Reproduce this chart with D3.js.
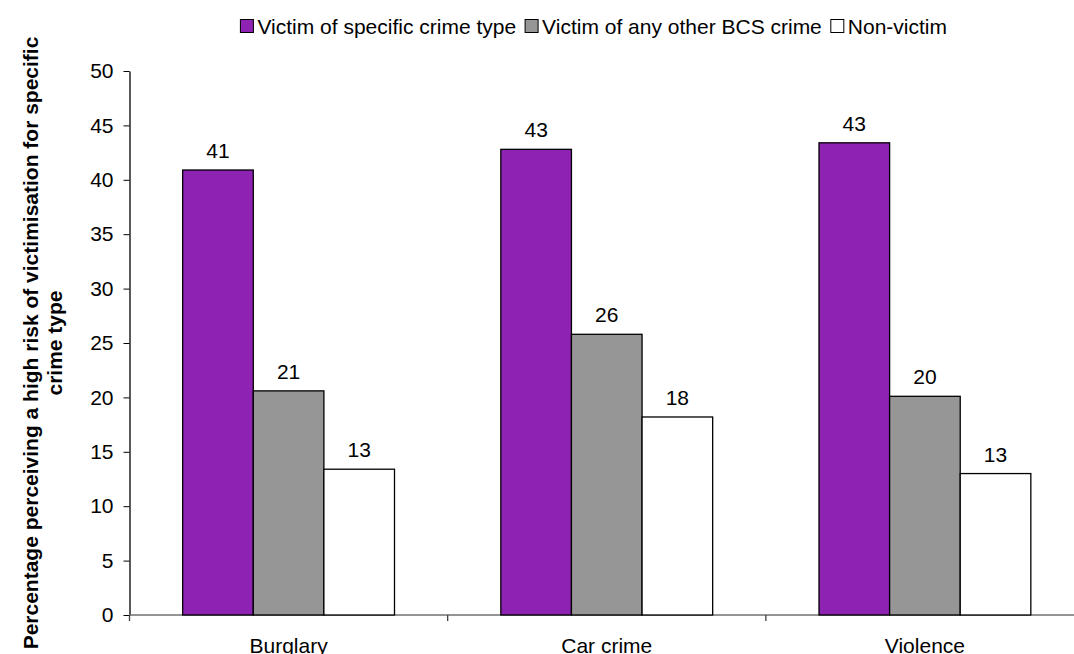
<!DOCTYPE html>
<html>
<head>
<meta charset="utf-8">
<script src="https://cdn.jsdelivr.net/npm/d3@7"></script>
<style>
  html, body { margin: 0; padding: 0; background: #fff; }
  svg { display: block; font-family: "Liberation Sans", Arial, sans-serif; }
</style>
</head>
<body>
<svg id="chart" width="1074" height="654"></svg>
<script>
// Crime types along the x axis
const categories = ["Burglary", "Car crime", "Violence"];
// Victimisation groups (one bar each per crime type)
const seriesNames = ["Victim of specific crime type", "Victim of any other BCS crime", "Non-victim"];
// Percentage perceiving a high risk, per group
const victimSpecific = [40.9, 42.8, 43.4];
const victimOther = [20.6, 25.8, 20.1];
const nonVictim = [13.4, 18.2, 13.0];
// Y axis ticks
const yTicks = [0, 5, 10, 15, 20, 25, 30, 35, 40, 45, 50];
const yLabel = ["Percentage perceiving a high risk of victimisation for specific", "crime type"];

const colors = ["#8e22b2", "#969696", "#ffffff"];
const seriesValues = [victimSpecific, victimOther, nonVictim];

const svg = d3.select("#chart");
const plot = { left: 129.5, right: 1084, top: 71, bottom: 615 };

const y = d3.scaleLinear().domain([0, 50]).range([plot.bottom, plot.top]);
const x = d3.scaleBand().domain(categories).range([plot.left, plot.right]).padding(0);
const xs = d3.scaleBand().domain(seriesNames).range([0, x.bandwidth()])
  .paddingInner(0).paddingOuter(0.753);

const fs = 21;

// Y axis
const yAxis = svg.append("g")
  .attr("transform", `translate(${plot.left},0)`)
  .call(d3.axisLeft(y).tickValues(yTicks).tickSize(6).tickPadding(10).tickSizeOuter(0));
yAxis.select(".domain").attr("stroke", "#000").attr("stroke-width", 1.3);
yAxis.selectAll(".tick line").attr("stroke", "#000");
yAxis.selectAll(".tick text").attr("font-size", fs).attr("fill", "#000")
  .attr("font-family", "Liberation Sans, Arial, sans-serif");

// X axis: line at zero with ticks on the category boundaries
const xAxisG = svg.append("g").attr("transform", `translate(0,${plot.bottom})`);
xAxisG.append("line")
  .attr("x1", plot.left).attr("x2", plot.right)
  .attr("stroke", "#707070").attr("stroke-width", 1.3);
const boundaries = categories.map(c => x(c)).concat([plot.right]);
xAxisG.selectAll("line.tk").data(boundaries).join("line")
  .attr("class", "tk")
  .attr("x1", d => d).attr("x2", d => d)
  .attr("y1", 0).attr("y2", 6)
  .attr("stroke", "#404040").attr("stroke-width", 1.3);
xAxisG.selectAll("text").data(categories).join("text")
  .attr("x", d => x(d) + x.bandwidth() / 2)
  .attr("y", 37.5)
  .attr("text-anchor", "middle")
  .attr("font-size", fs)
  .text(d => d);

// Bars
const rows = categories.map((c, i) => ({
  cat: c,
  vals: seriesNames.map((s, j) => ({ s, j, v: seriesValues[j][i] }))
}));
const groups = svg.append("g").selectAll("g").data(rows).join("g")
  .attr("transform", d => `translate(${x(d.cat)},0)`);
groups.selectAll("rect").data(d => d.vals).join("rect")
  .attr("x", d => xs(d.s))
  .attr("width", xs.bandwidth())
  .attr("y", d => y(d.v))
  .attr("height", d => y(0) - y(d.v))
  .attr("fill", d => colors[d.j])
  .attr("stroke", "#000")
  .attr("stroke-width", 1.3);
groups.selectAll("text").data(d => d.vals).join("text")
  .attr("x", d => xs(d.s) + xs.bandwidth() / 2)
  .attr("y", d => y(d.v) - 12)
  .attr("text-anchor", "middle")
  .attr("font-size", fs)
  .text(d => d3.format(".0f")(d.v));

// Y axis title (two lines, rotated)
const title = svg.append("text")
  .attr("transform", `translate(38,${(plot.top + plot.bottom) / 2}) rotate(-90)`)
  .attr("text-anchor", "middle")
  .attr("font-weight", "bold")
  .attr("font-size", 21);
yLabel.forEach((t, i) => {
  title.append("tspan").attr("x", 0).attr("dy", i === 0 ? 0 : 24).text(t);
});

// Legend, right-aligned with the last item ending above the Violence group
const legend = svg.append("g");
const items = legend.selectAll("g").data(seriesNames).join("g");
items.append("rect")
  .attr("width", 13).attr("height", 13)
  .attr("y", 19.5)
  .attr("fill", (d, i) => colors[i])
  .attr("stroke", "#000").attr("stroke-width", 1);
items.append("text")
  .attr("x", 17).attr("y", 33.5)
  .attr("font-size", fs)
  .text(d => d);
let cursor = 0;
items.each(function () {
  const g = d3.select(this);
  g.attr("transform", `translate(${cursor},0)`);
  cursor += 17 + g.select("text").node().getComputedTextLength() + 9;
});
const legendWidth = cursor - 9;
legend.attr("transform", `translate(${947 - legendWidth},0)`);
</script>
</body>
</html>
